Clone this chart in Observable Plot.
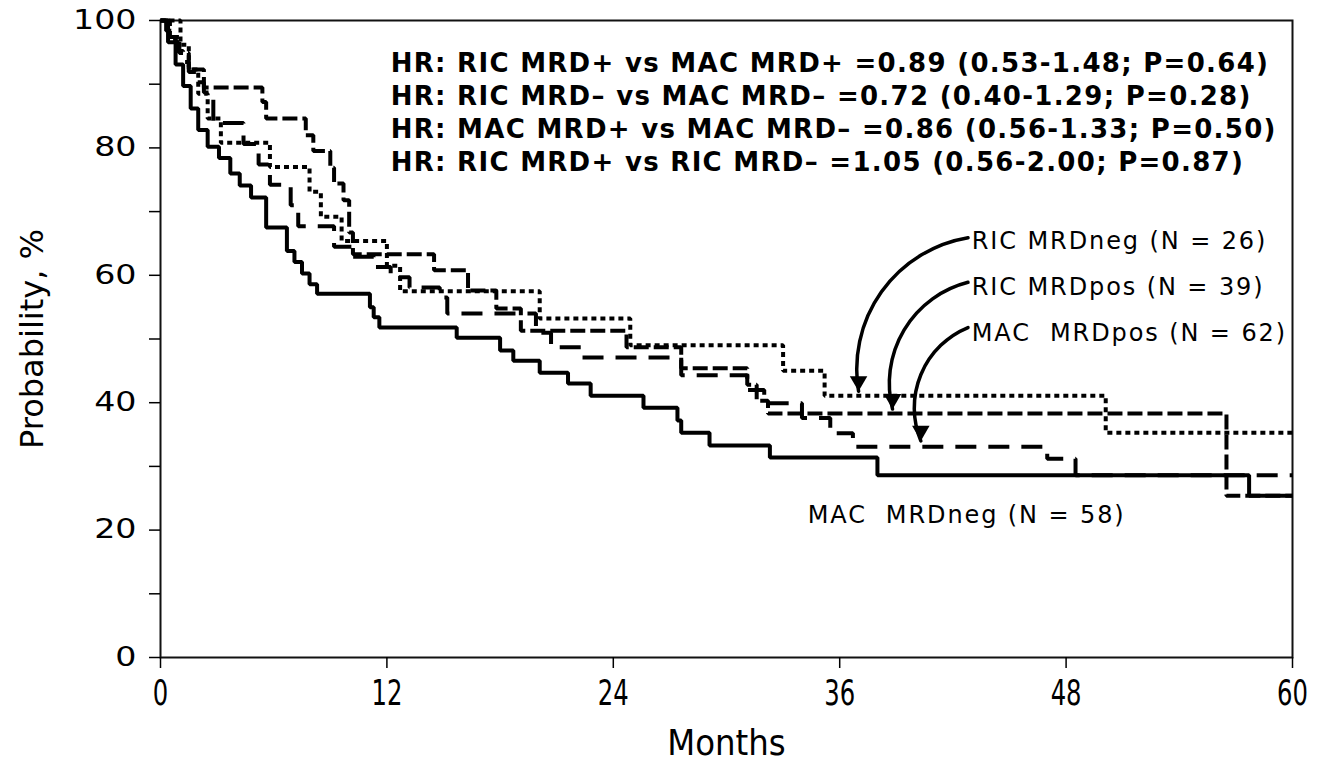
<!DOCTYPE html>
<html><head><meta charset="utf-8">
<script src="https://cdn.jsdelivr.net/npm/d3@7"></script>
<script src="https://cdn.jsdelivr.net/npm/@observablehq/plot@0.6"></script>
<style>
html,body{margin:0;padding:0;background:#fff;overflow:hidden;}
</style></head>
<body><div id="chart"></div>
<script>
// ---------- data ----------
const xTicks = [0, 12, 24, 36, 48, 60];
const yTicks = [0, 10, 20, 30, 40, 50, 60, 70, 80, 90, 100];

// MAC MRDneg (solid)
const macNegMonths = [0,0.4,0.8,1.2,1.6,2.0,2.5,3.1,3.7,4.2,4.8,5.6,6.7,7.1,7.5,7.9,8.3,11.1,11.3,11.6,15.7,18.0,18.7,20.1,21.6,22.8,25.6,27.4,27.6,29.1,32.3,38.0,57.7];
const macNegSurv   = [100,96.6,93.1,89.7,86.2,82.8,80.2,78.4,76.0,74.1,72.2,67.5,63.8,62.1,60.3,58.6,57.1,55.0,53.4,51.8,50.2,48.2,46.6,44.7,43.0,41.1,39.2,37.2,35.3,33.3,31.4,28.6,25.4];

// RIC MRDneg (dotted)
const ricNegMonths = [0,1.06,1.5,2.0,2.5,3.2,5.8,7.9,8.5,9.6,12.0,12.7,20.1,24.9,33.0,35.2,50.1];
const ricNegSurv   = [100,96.2,92.3,88.5,84.6,80.8,77.0,73.1,69.2,65.4,61.5,57.5,53.2,49.0,45.0,41.1,35.3];

// RIC MRDpos (medium dash)
const ricPosMonths = [0,0.5,1.0,1.5,2.3,5.4,5.6,7.7,8.1,9.0,9.2,9.7,10.0,10.2,14.5,16.3,17.8,19.1,24.7,27.6,31.1,31.6,32.2,56.5];
const ricPosSurv   = [100,97.4,94.9,92.3,89.5,87.2,84.6,82.0,79.5,76.9,74.4,71.8,66.7,63.3,60.8,57.6,54.8,51.3,48.7,45.4,42.8,40.3,38.3,25.4];

// MAC MRDpos (long dash)
const macPosMonths = [0,0.3,0.6,0.9,1.2,1.5,1.9,2.3,2.8,4.4,5.2,5.8,6.9,7.3,9.2,10.2,11.3,12.2,13.2,14.8,15.2,19.9,20.7,22.3,27.6,31.1,32.0,34.0,35.5,36.7,47.0,48.5];
const macPosSurv   = [100,98.4,96.8,95.2,93.5,91.9,90.3,88.7,83.9,80.6,77.4,74.2,71.0,67.7,64.5,62.9,61.3,59.7,58.1,56.5,54.0,51.0,48.7,47.1,44.3,42.0,39.9,37.6,35.2,33.1,31.2,28.6];

const hrLines = [
  "HR: RIC MRD+ vs MAC MRD+ =0.89 (0.53-1.48; P=0.64)",
  "HR: RIC MRD\u2013 vs MAC MRD\u2013 =0.72 (0.40-1.29; P=0.28)",
  "HR: MAC MRD+ vs MAC MRD\u2013 =0.86 (0.56-1.33; P=0.50)",
  "HR: RIC MRD+ vs RIC MRD\u2013 =1.05 (0.56-2.00; P=0.87)"
];
const groupLabels = ["RIC MRDneg (N = 26)", "RIC MRDpos (N = 39)", "MAC\u00a0 MRDpos (N = 62)", "MAC\u00a0 MRDneg (N = 58)"];

// ---------- build ----------
function series(name, t, s) {
  const rows = t.map((m, i) => ({group: name, month: m, pct: s[i]}));
  rows.push({group: name, month: 60, pct: s[s.length - 1]});
  return rows;
}
const macNeg = series("MAC MRDneg", macNegMonths, macNegSurv);
const ricNeg = series("RIC MRDneg", ricNegMonths, ricNegSurv);
const ricPos = series("RIC MRDpos", ricPosMonths, ricPosSurv);
const macPos = series("MAC MRDpos", macPosMonths, macPosSurv);

// annotation arrows (data coordinates): from label start to arrow tip
const arrowDefs = [
  {sx: 42.8, sy: 65.9, ex: 37.0, ey: 41.8},
  {sx: 42.8, sy: 58.9, ex: 38.8, ey: 39.0},
  {sx: 42.8, sy: 51.8, ex: 40.3, ey: 34.0}
];

const lineStyle = {x: "month", y: "pct", curve: "step-after", stroke: "#000", strokeWidth: 4, strokeLinecap: "butt", strokeLinejoin: "miter"};
const condensed = "'DejaVu Sans Condensed', 'DejaVu Sans', sans-serif";

const chart = Plot.plot({
  width: 1329,
  height: 761,
  marginLeft: 160,
  marginRight: 37,
  marginTop: 20,
  marginBottom: 104,
  style: {fontFamily: "'DejaVu Sans', Verdana, sans-serif", background: "#fff", color: "#000"},
  x: {domain: [0, 60]},
  y: {domain: [0, 100]},
  marks: [
    Plot.frame({stroke: "#111", strokeWidth: 2}),
    Plot.axisX({ticks: xTicks, tickSize: 11, tickPadding: 12, fontSize: 27, label: null, strokeWidth: 1.5, fontFamily: condensed}),
    Plot.axisY({ticks: yTicks, tickSize: 11, tickPadding: 13, fontSize: 26, label: null, strokeWidth: 1.5,
                tickFormat: d => d % 20 === 0 ? String(d) : ""}),
    Plot.text(["Probability, %"], {frameAnchor: "left", dx: -128, rotate: -90, textAnchor: "middle", fontSize: 32, fill: "#000"}),
    Plot.text(["Months"], {frameAnchor: "bottom", dy: 97, fontSize: 36, fill: "#000", fontFamily: condensed}),
    Plot.line(macNeg, {...lineStyle}),
    Plot.line(ricNeg, {...lineStyle, strokeDasharray: "5,4"}),
    Plot.line(ricPos, {...lineStyle, strokeDasharray: "15,5"}),
    Plot.line(macPos, {...lineStyle, strokeDasharray: "21,12"}),
    Plot.arrow(arrowDefs, {x1: "sx", y1: "sy", x2: "ex", y2: "ey", bend: -45, headLength: 0, stroke: "#000", strokeWidth: 3.5}),
    Plot.dot(arrowDefs, {x: "ex", y: "ey", symbol: "triangle", rotate: 180, r: 6.5, fill: "#000", stroke: "none", dy: -10}),
    Plot.text(hrLines, {x: 12.2, y: (d, i) => 93.3 - i * 5.2, text: d => d, textAnchor: "start",
                fontSize: 26, fontWeight: "bold", fill: "#000"}),
    Plot.text(groupLabels.slice(0, 3), {x: 43.0, y: (d, i) => 65.3 - i * 7.2, text: d => d, textAnchor: "start",
                fontSize: 24, fill: "#000"}),
    Plot.text(groupLabels.slice(3), {x: 34.3, y: 22.3, text: d => d, textAnchor: "start", fontSize: 24, fill: "#000"})
  ]
});
document.getElementById("chart").appendChild(chart);

// ---------- typographic tweaks (glyph stretching / spacing as in the original) ----------
function px(v) {
  if (!v || /em$/.test(v)) return 0;
  const n = parseFloat(v);
  return isNaN(n) ? 0 : n;
}
function stretch(sel, sx, sy) {
  sel.each(function () {
    const t = this.getAttribute("transform") || "";
    const x = px(this.getAttribute("x")), y = px(this.getAttribute("y"));
    this.setAttribute("transform", `${t} translate(${x},${y}) scale(${sx},${sy}) translate(${-x},${-y})`.trim());
  });
}
const svg = d3.select(chart);
stretch(svg.selectAll('g[aria-label="x-axis tick label"] text'), 1, 1.3);
stretch(svg.selectAll('g[aria-label="y-axis tick label"] text'), 1.28, 1);
svg.selectAll("text").filter(function () { return this.textContent.startsWith("HR:"); }).attr("letter-spacing", "1.3");
svg.selectAll("text").filter(function () { return /\(N = /.test(this.textContent); }).attr("letter-spacing", "1.9");
</script>
</body></html>
